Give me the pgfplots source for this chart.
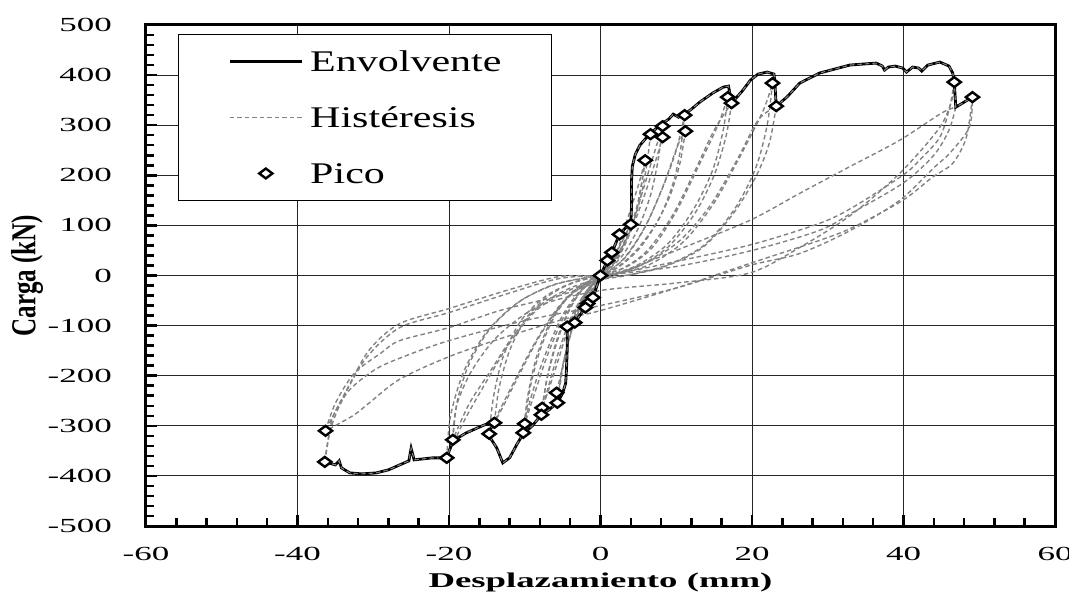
\documentclass[border=0pt]{standalone}
\usepackage{fontspec}
\usepackage{graphicx}
\usepackage{pgfplots}
\pgfplotsset{compat=1.18}
\setmainfont{Liberation Serif}
\newfontfamily\tickfont{Liberation Serif}[FakeStretch=1.75]
\newfontfamily\legfont{Liberation Serif}[FakeStretch=1.4]
\newfontfamily\ylabfont{Liberation Serif}
\definecolor{hyst}{RGB}{130,130,130}
\pgfplotsset{hyst/.style={color=hyst, line width=1.4pt, dash pattern=on 4.5pt off 3pt, forget plot, smooth, tension=0.5}}
\begin{document}
\begin{tikzpicture}
\begin{axis}[
  scale only axis, width=909pt, height=501pt,
  xmin=-60, xmax=60, ymin=-500, ymax=500,
  xtick={-60,-40,-20,0,20,40,60},
  xticklabels={-60,-40,-20,0,20,40,60},
  ytick={-500,-400,-300,-200,-100,0,100,200,300,400,500},
  yticklabels={-500,-400,-300,-200,-100,0,100,200,300,400,500},
  minor x tick num=4, minor y tick num=4,
  tick align=inside, xtick pos=bottom, ytick pos=left,
  major tick length=11pt, minor tick length=8pt,
  tick style={black, line width=2.5pt},
  axis line style={line width=3pt, black},
  grid=major, major grid style={black!85, line width=0.9pt},
  xticklabel style={font=\tickfont\fontsize{20}{20}\selectfont, anchor=north, inner sep=0pt, yshift=-21pt},
  yticklabel style={font=\tickfont\fontsize{20}{20}\selectfont, anchor=east, inner sep=0pt, xshift=-34pt},
  xlabel={\tickfont\bfseries\fontsize{21}{21}\selectfont Desplazamiento (mm)},
  every axis x label/.style={at={(axis description cs:0.5,-0.1218)}, anchor=base},
  ylabel={\scalebox{1}[1.4]{\ylabfont\bfseries\fontsize{25}{25}\selectfont Carga (kN)}},
  every axis y label/.style={at={(axis description cs:-0.1309,0.5)}, rotate=90, anchor=center},
  legend image code/.code={\draw[mark repeat=2,mark phase=2,#1] plot coordinates {(0pt,0pt) (36pt,0pt) (72pt,0pt)};},
  legend cell align=left,
  legend style={at={(axis description cs:0.0352,0.982)}, anchor=north west, draw=black, line width=0.9pt, fill=white,
    font=\legfont\fontsize{30}{30}\selectfont, inner xsep=50pt, inner ysep=13pt, row sep=28pt,
    nodes={inner sep=0pt, text height=24pt, text depth=4pt},
    /tikz/every odd column/.append style={column sep=7pt}},
]
% ---------------- hysteresis loops ----------------
\addplot[hyst] coordinates {(0.9,30) (0.4,12) (0,0) (-0.5,-20) (-1.0,-44) (-0.6,-25) (0,-5) (0.5,12) (0.9,30)};
\addplot[hyst] coordinates {(1.5,46) (0.8,20) (0,0) (-0.9,-28) (-1.7,-56) (-1.0,-30) (0,-6) (0.8,22) (1.5,46)};
\addplot[hyst] coordinates {(2.0,60) (1.0,28) (0,0) (-1.0,-30) (-2.0,-64) (-1.2,-35) (0,-6) (1.0,28) (2.0,62)};
\addplot[hyst] coordinates {(2.5,82) (1.3,35) (0,2) (-1.6,-40) (-3.4,-94) (-2.0,-48) (0,-8) (1.4,38) (2.5,82)};
\addplot[hyst] coordinates {(4.0,102) (2.3,52) (0.5,10) (-1.5,-30) (-3,-70) (-4.4,-102) (-2.8,-60) (-1,-18) (1,20) (2.5,60) (4,102)};
\addplot[hyst] coordinates {(5.9,230) (5.3,170) (4.4,110) (3,60) (1.5,25) (0,0) (-1.5,-25) (-3,-70) (-4.5,-150) (-5.8,-234)};
\addplot[hyst] coordinates {(-5.7,-254) (-5,-180) (-3.8,-110) (-2.3,-50) (-0.8,-12) (0.8,14) (2,40) (3.5,110) (5,180) (5.9,230)};
\addplot[hyst] coordinates {(5.9,230) (5.0,150) (3.8,90) (2,35) (0,0) (-2,-35) (-3.5,-90) (-4.8,-170) (-5.7,-254)};
\addplot[hyst] coordinates {(6.6,282) (6.1,220) (5.2,150) (3.8,85) (2,35) (0,2) (-1.8,-30) (-3.8,-85) (-5.6,-170) (-7,-235) (-7.7,-264)};
\addplot[hyst] coordinates {(-7.7,-264) (-7.0,-200) (-5.8,-130) (-4.2,-70) (-2.4,-28) (0,0) (2,30) (3.8,85) (5.5,165) (7,240) (8.2,298)};
\addplot[hyst] coordinates {(8.2,298) (7.6,230) (6.6,160) (5,95) (3,42) (0.8,8) (-1.5,-25) (-3.8,-80) (-5.8,-165) (-7.2,-240) (-7.8,-278)};
\addplot[hyst] coordinates {(-7.8,-278) (-7.1,-210) (-5.9,-140) (-4.3,-75) (-2.5,-30) (0,0) (2.2,32) (4,88) (5.8,160) (7.2,225) (8.2,276)};
\addplot[hyst] coordinates {(11.1,320) (10.6,255) (9.6,185) (7.8,115) (5.2,55) (2.5,18) (0,-2) (-2.2,-25) (-4.6,-75) (-6.9,-155) (-8.8,-240) (-10,-296)};
\addplot[hyst] coordinates {(-10,-296) (-9.3,-225) (-8,-150) (-6.2,-85) (-3.8,-35) (-1.2,-8) (1.2,10) (3.5,40) (6,100) (8.3,180) (10.2,260) (11.2,288)};
\addplot[hyst] coordinates {(11.2,288) (10.5,225) (9.2,160) (7.2,100) (4.6,48) (2,14) (-0.5,-5) (-2.8,-32) (-5.2,-85) (-7.6,-170) (-9.3,-250) (-10.2,-314)};
\addplot[hyst] coordinates {(-10.2,-314) (-9.6,-240) (-8.4,-160) (-6.6,-92) (-4.2,-40) (-1.5,-10) (1,8) (3.2,36) (5.8,95) (8.2,175) (10,250) (11.1,320)};
\addplot[hyst] coordinates {(16.8,356) (16.2,290) (14.8,210) (12.2,130) (8.8,62) (4.8,20) (1,0) (-2,-18) (-5,-55) (-8,-120) (-10.8,-200) (-12.8,-260) (-14,-294)};
\addplot[hyst] coordinates {(-14,-294) (-13.4,-225) (-12,-150) (-9.8,-85) (-6.8,-40) (-3.5,-14) (0,0) (3,15) (6.2,50) (9.5,120) (12.5,210) (15,290) (17.3,344)};
\addplot[hyst] coordinates {(17.3,344) (16.6,280) (15,200) (12.5,125) (9,58) (5,18) (1,-2) (-2.5,-22) (-5.5,-62) (-8.5,-130) (-11.5,-215) (-13.5,-275) (-14.7,-316)};
\addplot[hyst] coordinates {(-14.7,-316) (-14.1,-240) (-12.8,-160) (-10.5,-90) (-7.3,-42) (-3.8,-15) (0,0) (3.4,17) (6.8,55) (10,128) (13,220) (15.5,300) (16.8,356)};
\addplot[hyst] coordinates {(22.7,384) (22,300) (20.5,215) (17.8,135) (13.8,62) (9,22) (4,2) (0,-6) (-4,-25) (-8,-60) (-11.5,-120) (-14.5,-190) (-17.3,-255) (-19.5,-328)};
\addplot[hyst] coordinates {(-19.5,-328) (-18.9,-250) (-17.3,-175) (-14.5,-105) (-10.5,-50) (-6,-18) (-1.8,-4) (2,4) (6,25) (10.5,70) (14.5,140) (18,230) (20.8,310) (23.2,338)};
\addplot[hyst] coordinates {(23.2,338) (22.3,265) (20.6,200) (17.6,125) (13.5,56) (8.5,18) (3.5,0) (-0.5,-10) (-4.5,-32) (-8.5,-70) (-12,-135) (-15,-210) (-18,-290) (-20.3,-364)};
\addplot[hyst] coordinates {(-20.3,-364) (-19.8,-280) (-18,-190) (-15,-112) (-11,-55) (-6.5,-20) (-2,-5) (2,2) (6.5,22) (11,68) (15,145) (18.5,240) (21.5,330) (22.7,384)};
\addplot[hyst] coordinates {(-19.5,-328) (-19,-260) (-17,-190) (-13.5,-120) (-8,-60) (0,-30) (10,-15) (19.7,5) (26.3,56) (33,120) (39.5,204) (44.8,296) (46.5,356) (46.7,386)};
\addplot[hyst] coordinates {(46.7,386) (46.1,336) (44.8,276) (42.1,230) (39.9,200) (33.3,136) (28.9,104) (20,62) (10,28) (2,4) (-5.4,-6) (-12,-35) (-20,-74) (-26.5,-104) (-30.9,-164) (-34,-244) (-35.5,-290) (-36.4,-372)};
\addplot[hyst] coordinates {(-36.4,-372) (-35.5,-300) (-33.5,-235) (-30,-190) (-26.5,-165) (-20,-130) (-10,-90) (0,-60) (10,-25) (19.7,20) (26.3,44) (33,90) (39.5,150) (44,215) (46.1,244) (48.7,296) (49.1,356)};
\addplot[hyst] coordinates {(49.1,356) (48.3,276) (46.5,224) (43.8,196) (39.9,150) (33.3,96) (28.9,70) (19.7,24) (10,-25) (0,-70) (-5,-88) (-13,-125) (-20,-162) (-26.5,-207) (-30.5,-254) (-32.7,-280) (-36.3,-310)};
\addplot[hyst] coordinates {(-36.3,-310) (-35,-255) (-32.5,-195) (-29,-155) (-26.5,-130) (-20,-104) (-13.3,-70) (-5.4,-40) (0,-10) (10,50) (19.7,110) (26.3,164) (33,218) (39.5,270) (45,324) (46.9,336)};
\addplot[hyst] coordinates {(46.9,336) (46,290) (44,240) (40,185) (33.3,126) (28.9,90) (20,50) (10,18) (0,0) (-5.4,-2) (-12,-28) (-20,-66) (-26.5,-96) (-30.5,-148) (-33.5,-228) (-35.8,-295) (-36.3,-310)};
% ---------------- envelope ----------------
\addplot[black, line width=2.8pt] coordinates {
(-36.4,-372) (-35.0,-378) (-34.5,-370) (-34.2,-384) (-33.1,-394) (-31.5,-396) (-29.6,-394) (-28.0,-388)
(-26.5,-378) (-25.3,-370) (-25.0,-345) (-24.6,-368) (-22.2,-364) (-20.3,-364) (-19.5,-330) (-17.7,-314)
(-15.3,-298) (-14.0,-294) (-14.9,-316) (-13.7,-344) (-12.9,-374) (-12.0,-364) (-11.0,-336) (-10.2,-316)
(-9.0,-300) (-7.8,-278) (-6.8,-268) (-5.7,-254) (-5.0,-235) (-4.6,-215) (-4.5,-190) (-4.4,-150) (-4.4,-102)
(-3.4,-94) (-2.0,-64) (-1.7,-56) (-1.0,-44) (0,0) (0.9,30) (1.5,46) (2.5,82) (3.3,95) (4.0,102)
(4.1,140) (4.1,190) (4.2,218) (4.6,242) (5.2,260) (6.0,274) (6.6,284) (7.4,294) (8.2,304) (9.0,312)
(9.6,322) (10.3,316) (11.1,322) (12.0,332) (13.1,346) (14.8,364) (16.2,376) (16.9,378) (17.3,344)
(18.7,368) (19.8,390) (20.8,402) (22.0,406) (22.9,402) (23.0,388) (23.2,338) (24.6,356) (26.3,384)
(28.9,404) (32.9,420) (36.4,424) (37.2,418) (37.5,410) (38.0,416) (38.9,418) (39.9,414) (40.4,406)
(41.2,416) (42.0,414) (42.4,408) (43.2,420) (44.8,426) (46.0,418) (46.5,404) (46.7,386) (46.9,336) (49.1,356)};
\addlegendentry{Envolvente}
\addplot[color=hyst, line width=1.1pt, dash pattern=on 4.5pt off 3pt, forget plot] coordinates {
(-36.4,-372) (-35.0,-378) (-34.5,-370) (-34.2,-384) (-33.1,-394) (-31.5,-396) (-29.6,-394) (-28.0,-388)
(-26.5,-378) (-25.3,-370) (-25.0,-345) (-24.6,-368) (-22.2,-364) (-20.3,-364) (-19.5,-330) (-17.7,-314)
(-15.3,-298) (-14.0,-294) (-14.9,-316) (-13.7,-344) (-12.9,-374) (-12.0,-364) (-11.0,-336) (-10.2,-316)
(-9.0,-300) (-7.8,-278) (-6.8,-268) (-5.7,-254) (-5.0,-235) (-4.6,-215) (-4.5,-190) (-4.4,-150) (-4.4,-102)
(-3.4,-94) (-2.0,-64) (-1.7,-56) (-1.0,-44) (0,0) (0.9,30) (1.5,46) (2.5,82) (3.3,95) (4.0,102)
(4.1,140) (4.1,190) (4.2,218) (4.6,242) (5.2,260) (6.0,274) (6.6,284) (7.4,294) (8.2,304) (9.0,312)
(9.6,322) (10.3,316) (11.1,322) (12.0,332) (13.1,346) (14.8,364) (16.2,376) (16.9,378) (17.3,344)
(18.7,368) (19.8,390) (20.8,402) (22.0,406) (22.9,402) (23.0,388) (23.2,338) (24.6,356) (26.3,384)
(28.9,404) (32.9,420) (36.4,424) (37.2,418) (37.5,410) (38.0,416) (38.9,418) (39.9,414) (40.4,406)
(41.2,416) (42.0,414) (42.4,408) (43.2,420) (44.8,426) (46.0,418) (46.5,404) (46.7,386) (46.9,336) (49.1,356)};
\addlegendimage{color=hyst, line width=1.3pt, dash pattern=on 4.5pt off 3pt}
\addlegendentry{Histéresis}
% ---------------- peaks ----------------
\addplot[only marks, mark=diamond*, mark size=6.6pt, mark options={rotate=90, fill=white, draw=black, line width=2.4pt, solid}] coordinates {
(0,0) (0.9,30) (1.5,46) (2.5,82) (4.0,102) (5.9,230) (6.6,282) (8.2,298) (8.2,276) (11.1,320) (11.2,288)
(16.8,356) (17.3,344) (22.7,384) (23.2,338) (46.7,386) (49.1,356)
(-1.0,-44) (-1.7,-56) (-2.0,-64) (-3.4,-94) (-4.4,-102) (-5.8,-234) (-5.7,-254) (-7.7,-264) (-7.8,-278)
(-10.0,-296) (-10.2,-314) (-14.0,-294) (-14.7,-316) (-19.5,-328) (-20.3,-364) (-36.3,-310) (-36.4,-372)};
\addlegendentry{Pico}
\end{axis}
\pgfresetboundingbox
\path[use as bounding box] (-146pt,-66pt) rectangle (923pt,526pt);
\end{tikzpicture}
\end{document}
